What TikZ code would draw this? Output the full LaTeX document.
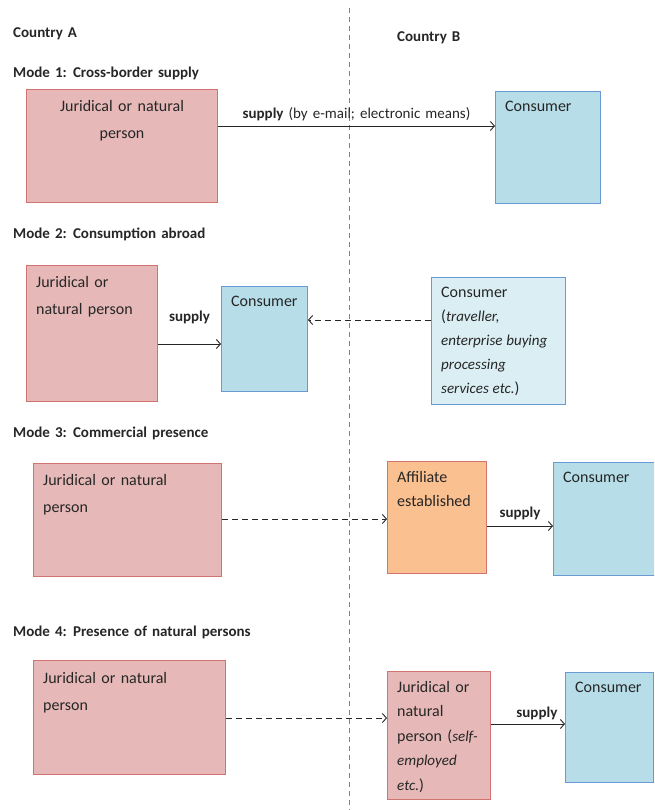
\documentclass[tikz,border=0pt]{standalone}
\usepackage{fontspec}
\setmainfont{Carlito}[WordSpace=1.5,ItalicFeatures={Scale=0.94,WordSpace=1.1}]
\usepackage{tikz}
\usetikzlibrary{arrows.meta,positioning}
\definecolor{pinkfill}{HTML}{E6B9B8}
\definecolor{pinkline}{HTML}{D2736F}
\definecolor{bluefill}{HTML}{B7DEE8}
\definecolor{blueline}{HTML}{6A9AD4}
\definecolor{palefill}{HTML}{DAEEF3}
\definecolor{orangefill}{HTML}{FAC090}
\definecolor{borderred}{HTML}{E05A5A}
\definecolor{ink}{HTML}{262626}

\begin{document}
\begin{tikzpicture}[x=1pt,y=-1pt,>={Straight Barb[length=4pt,width=9pt]},
  font=\fontsize{16}{27}\selectfont,text=ink,
  box/.style={line width=1pt,anchor=north west,inner sep=0pt},
  pinkbox/.style={box,fill=pinkfill,draw=pinkline},
  bluebox/.style={box,fill=bluefill,draw=blueline},
  palebox/.style={box,fill=palefill,draw=blueline},
  orangebox/.style={box,fill=orangefill,draw=pinkline},
  boxtext/.style={inner sep=0pt,align=left},
  heading/.style={anchor=base west,inner sep=0pt,font=\bfseries\fontsize{15}{17}\selectfont},
  flow/.style={->,line width=0.9pt,draw=ink},
  via/.style={flow,dash pattern=on 6pt off 4pt},
  tag/.style={inner sep=0pt,font=\fontsize{15}{17}\selectfont}]
  \clip (0,0) rectangle (654,810);

  % Border between the countries
  \draw[draw=borderred,line width=1pt,dash pattern=on 5pt off 4pt] (349,8) -- (349,810);

  % Countries
  \node[heading] (ca) at (13,38) {Country A};
  \node[heading] (cb) at (397,42) {Country B};

  % Mode 1
  \node[heading] (m1) at (13,78) {Mode 1: Cross-border supply};
  \node[pinkbox,minimum width=191,minimum height=113] (a1) at (26,89) {};
  \node[bluebox,minimum width=105,minimum height=112] (b1) at (495,91) {};
  \node[boxtext,align=center,below=11pt of a1.north] (ta1) {Juridical or natural\\person};
  \node[boxtext,below right=10pt and 10pt of b1.north west] (tb1) {Consumer};
  \draw[flow] ([yshift=-37pt]a1.north east) coordinate (s1) -- (s1 -| b1.west)
    node[tag,midway,above=5pt] {\textbf{supply} (by e-mail; electronic means)};

  % Mode 2
  \node[heading] (m2) at (13,238) {Mode 2: Consumption abroad};
  \node[pinkbox,minimum width=131,minimum height=136] (a2) at (26,265) {};
  \node[bluebox,minimum width=86,minimum height=105] (b2) at (221,286) {};
  \node[palebox,minimum width=134,minimum height=127] (c2) at (431,277) {};
  \node[boxtext,below right=11pt and 10pt of a2.north west] (ta2) {Juridical or\\natural person};
  \node[boxtext,below right=10pt and 10pt of b2.north west] (tb2) {Consumer};
  \node[boxtext,font=\fontsize{16}{24}\selectfont,below right=10pt and 10pt of c2.north west] (tc2)
    {Consumer\\(\textit{traveller,}\\\textit{enterprise buying}\\\textit{processing}\\\textit{services etc.})};
  \draw[flow] ([yshift=-79pt]a2.north east) coordinate (s2) -- (s2 -| b2.west)
    node[tag,midway,above=20pt] {\textbf{supply}};
  \draw[via] ([yshift=-43pt]c2.north west) coordinate (v2) -- (v2 -| b2.east);

  % Mode 3
  \node[heading] (m3) at (13,437) {Mode 3: Commercial presence};
  \node[pinkbox,minimum width=188,minimum height=113] (a3) at (33,463) {};
  \node[orangebox,minimum width=99,minimum height=112] (b3) at (387,461) {};
  \node[bluebox,minimum width=110,minimum height=113] (c3) at (553,462) {};
  \node[boxtext,below right=11pt and 10pt of a3.north west] (ta3) {Juridical or natural\\person};
  \node[boxtext,font=\fontsize{16}{24}\selectfont,below right=10pt and 10pt of b3.north west] (tb3) {Affiliate\\established};
  \node[boxtext,below right=10pt and 10pt of c3.north west] (tc3) {Consumer};
  \draw[via] ([yshift=-56pt]a3.north east) coordinate (v3) -- (v3 -| b3.west);
  \draw[flow] ([yshift=-65pt]b3.north east) coordinate (s3) -- (s3 -| c3.west)
    node[tag,midway,above=6pt] {\textbf{supply}};

  % Mode 4
  \node[heading] (m4) at (13,636) {Mode 4: Presence of natural persons};
  \node[pinkbox,minimum width=192,minimum height=114] (a4) at (33,660) {};
  \node[pinkbox,minimum width=103,minimum height=128] (b4) at (387,671) {};
  \node[bluebox,minimum width=88,minimum height=110] (c4) at (565,672) {};
  \node[boxtext,below right=12pt and 10pt of a4.north west] (ta4) {Juridical or natural\\person};
  \node[boxtext,font=\fontsize{16}{24.5}\selectfont,below right=10pt and 10pt of b4.north west] (tb4)
    {Juridical or\\natural\\person (\textit{self-}\\\textit{employed}\\\textit{etc.})};
  \node[boxtext,below right=10pt and 10pt of c4.north west] (tc4) {Consumer};
  \draw[via] ([yshift=-58pt]a4.north east) coordinate (v4) -- (v4 -| b4.west);
  \draw[flow] ([yshift=-53pt]b4.north east) coordinate (s4) -- (s4 -| c4.west)
    node[tag,pos=0.62,above=4pt] {\textbf{supply}};
\end{tikzpicture}
\end{document}
